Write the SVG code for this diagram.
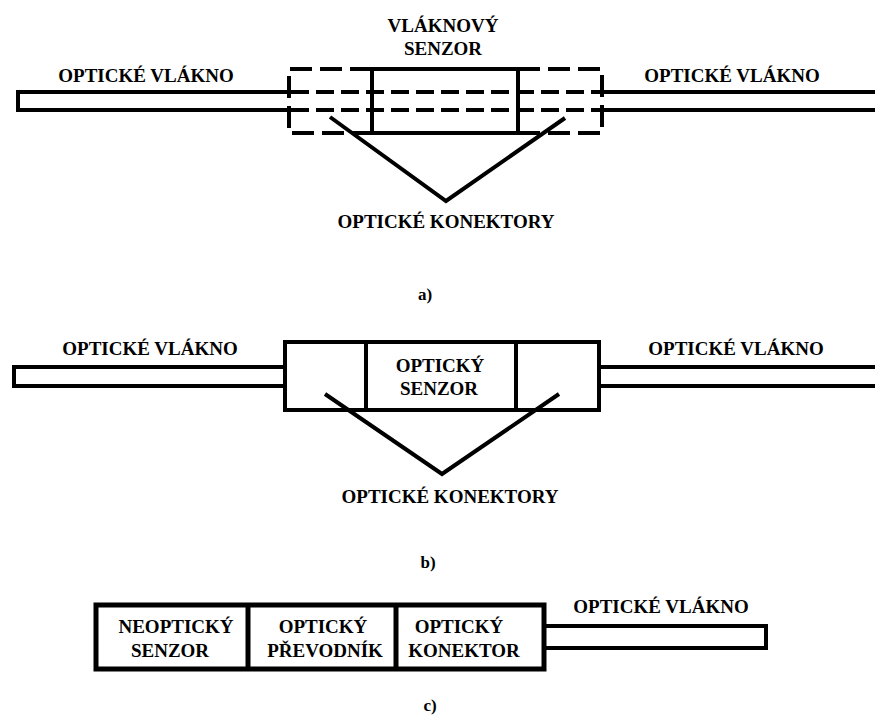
<svg xmlns="http://www.w3.org/2000/svg" width="875" height="717" viewBox="0 0 875 717">
<style>
.t{font-family:"Liberation Serif","Times New Roman",serif;font-weight:bold;font-size:19px;fill:#000;text-anchor:middle}
.s{font-size:17px}
.ln{fill:none;stroke:#000;stroke-width:4}
.th{stroke-width:5}
.dh{fill:none;stroke:#000;stroke-width:4;stroke-dasharray:22 8}
.di{fill:none;stroke:#000;stroke-width:4;stroke-dasharray:18 7}
</style>
<rect width="875" height="717" fill="#fff"/>

<!-- a) -->
<g id="a-fiber-left">
<path class="ln" d="M289,92 H18 V110 H289"/>
<text class="t" x="146" y="82">OPTICKÉ VLÁKNO</text>
</g>
<g id="a-connector-left">
<path class="dh" d="M372,69 H289 V133 H372"/>
</g>
<g id="a-sensor">
<rect class="ln" x="372" y="69" width="146" height="64"/>
<text class="t" x="443" y="32">VLÁKNOVÝ</text>
<text class="t" x="443" y="55">SENZOR</text>
</g>
<g id="a-connector-right">
<path class="dh" d="M518,69 H602 V133 H518"/>
</g>
<g id="a-fiber-core">
<path class="di" d="M291,92 H602 M291,110 H602"/>
</g>
<g id="a-fiber-right">
<path class="ln" d="M602,92 H875 M602,110 H875"/>
<text class="t" x="732" y="82">OPTICKÉ VLÁKNO</text>
</g>
<g id="a-label">
<text class="t" x="446" y="228">OPTICKÉ KONEKTORY</text>
<text class="t s" x="425" y="300">a)</text>
</g>

<!-- b) -->
<g id="b-fiber-left">
<path class="ln" d="M285,367 H14 V386 H285"/>
<text class="t" x="150" y="355">OPTICKÉ VLÁKNO</text>
</g>
<g id="b-box">
<rect class="ln" x="285" y="342" width="314" height="68"/>
<path class="ln" d="M366,342 V410 M516,342 V410"/>
<text class="t" x="440" y="372">OPTICKÝ</text>
<text class="t" x="439" y="395">SENZOR</text>
</g>
<g id="b-fiber-right">
<path class="ln" d="M599,367 H875 M599,386 H875"/>
<text class="t" x="736" y="355">OPTICKÉ VLÁKNO</text>
</g>
<g id="b-label">
<text class="t" x="450" y="503">OPTICKÉ KONEKTORY</text>
<text class="t s" x="428" y="568">b)</text>
</g>

<!-- c) -->
<g id="c-box">
<rect class="ln th" x="96" y="605" width="448" height="64"/>
<path class="ln th" d="M248,605 V669 M396,605 V669"/>
<text class="t" x="176" y="633">NEOPTICKÝ</text>
<text class="t" x="170" y="657">SENZOR</text>
<text class="t" x="323" y="633">OPTICKÝ</text>
<text class="t" x="325" y="657">PŘEVODNÍK</text>
<text class="t" x="459" y="633">OPTICKÝ</text>
<text class="t" x="464" y="657">KONEKTOR</text>
</g>
<g id="c-fiber">
<path class="ln" d="M546,626 H766 V648 H546"/>
<text class="t" x="661" y="613">OPTICKÉ VLÁKNO</text>
</g>
<g id="c-label">
<text class="t s" x="430" y="711">c)</text>
</g>

<g id="connectors">
<polyline class="ln" points="330,117 446,201 565,118"/>
<polyline class="ln" points="325,394 442,474 559,394"/>
</g>
</svg>
